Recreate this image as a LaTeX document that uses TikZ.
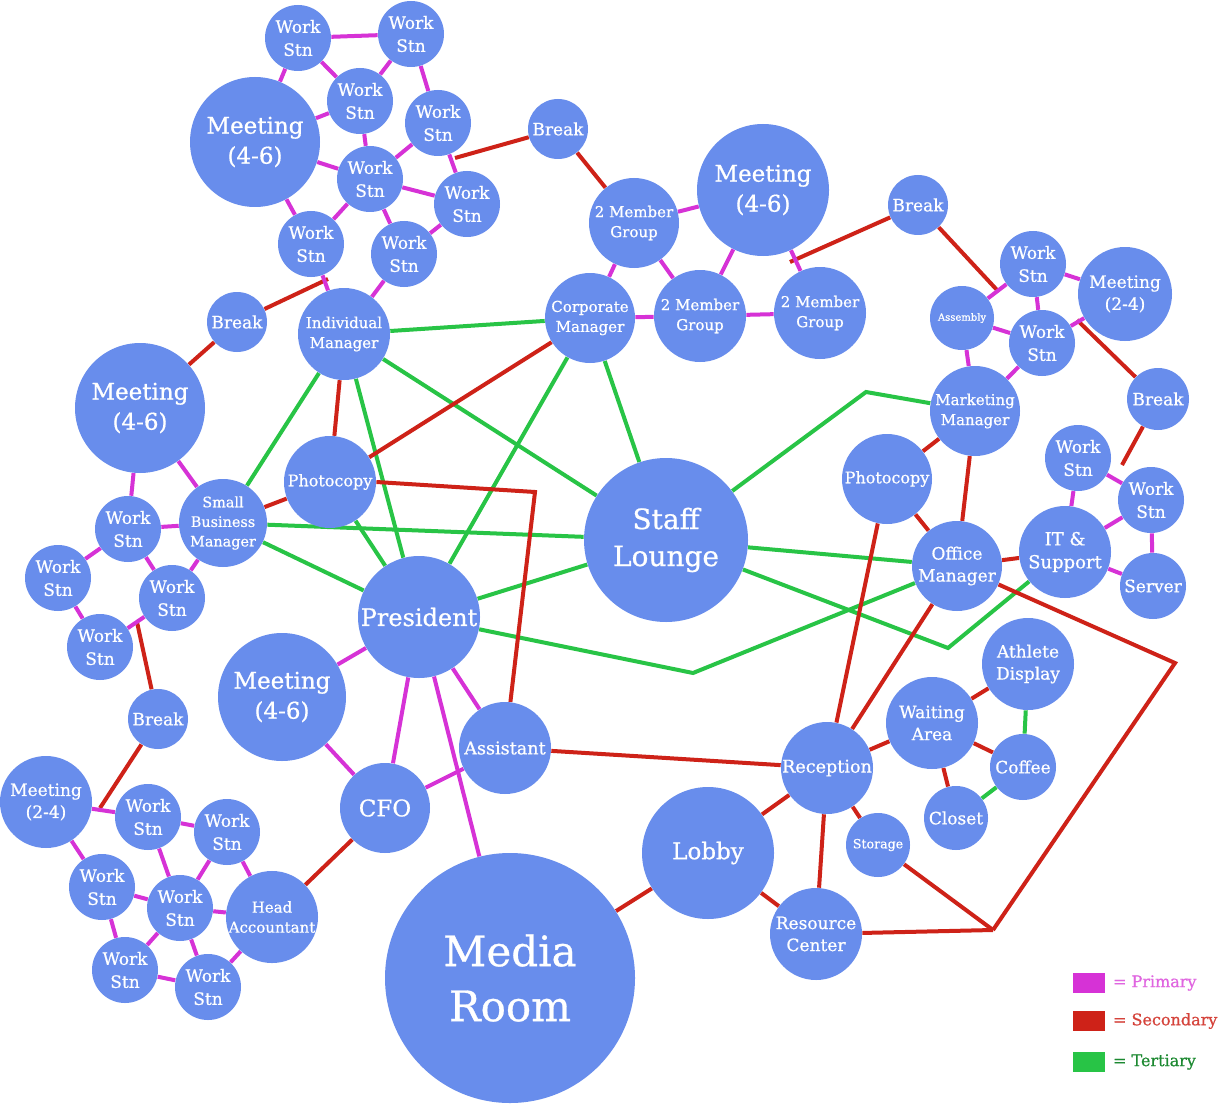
\documentclass[tikz,border=0pt]{standalone}
\usepackage{fontspec}
\setmainfont{DejaVu Serif}[FakeBold=0.7]
\pgfdeclarelayer{bg}
\pgfsetlayers{bg,main}
\definecolor{nb}{RGB}{104,141,236}
\definecolor{prim}{RGB}{214,50,214}
\definecolor{seco}{RGB}{206,34,24}
\definecolor{tert}{RGB}{40,196,70}
\newcommand{\fsz}[2]{\fontsize{#1}{#2}\selectfont}
\tikzset{
  bub/.style={circle, fill=nb, text=white, inner sep=0pt, align=center},
  ws/.style={bub, minimum size=33pt, font=\fsz{8.5}{11.5}},
  brk/.style={bub, minimum size=30pt, font=\fsz{8.5}{11}},
  meetbig/.style={bub, minimum size=65pt, font=\fsz{11.5}{15}},
  meetsm/.style={bub, minimum size=46pt, font=\fsz{8.5}{11}},
  mgr/.style={bub, minimum size=45pt, font=\fsz{7.5}{10}},
  mid/.style={bub, minimum size=46pt, font=\fsz{8.5}{11}},
  pri/.style={draw=prim, line width=2pt},
  sec/.style={draw=seco, line width=2pt},
  ter/.style={draw=tert, line width=2pt},
  legbox/.style={minimum width=16pt, minimum height=10pt, inner sep=0pt},
  legtxt/.style={anchor=west, font=\fsz{8}{10}}
}
\begin{document}
\begin{tikzpicture}[x=0.5pt,y=-0.5pt]
\useasboundingbox (0,0) rectangle (1230,1107);
% ---------- nodes ----------
% top-left cluster
\node[ws] (w1) at (298,38) {Work\\Stn};
\node[ws] (w2) at (411,34) {Work\\Stn};
\node[ws] (w3) at (360,101) {Work\\Stn};
\node[ws] (w4) at (438,123) {Work\\Stn};
\node[meetbig] (m1) at (255,142) {Meeting\\(4-6)};
\node[ws] (w5) at (370,179) {Work\\Stn};
\node[ws] (w6) at (467,204) {Work\\Stn};
\node[ws] (w7) at (311,244) {Work\\Stn};
\node[ws] (w8) at (404,254) {Work\\Stn};
\node[mgr, minimum size=46pt] (im) at (344,334) {Individual\\Manager};
\node[brk] (b1) at (237,322) {Break};
% left cluster
\node[meetbig] (m4) at (140,408) {Meeting\\(4-6)};
\node[mgr, minimum size=44pt, font=\fsz{7.2}{9.8}] (sb) at (223,523) {Small\\Business\\Manager};
\node[ws] (w13) at (128,529) {Work\\Stn};
\node[ws] (w14) at (58,578) {Work\\Stn};
\node[ws] (w15) at (172,598) {Work\\Stn};
\node[ws] (w16) at (100,647) {Work\\Stn};
\node[mid, font=\fsz{8}{10}] (pc1) at (330,482) {Photocopy};
\node[bub, minimum size=61pt, font=\fsz{12}{15}] (pres) at (419,617) {President};
\node[meetbig, minimum size=64pt] (m6) at (282,697) {Meeting\\(4-6)};
\node[bub, minimum size=45pt, font=\fsz{11.5}{14}] (cfo) at (385,808) {CFO};
\node[mid, font=\fsz{8.8}{11}] (asst) at (505,748) {Assistant};
\node[bub, minimum size=125pt, font=\fsz{21}{27.5}] (media) at (510,978) {Media\\Room};
% bottom-left cluster
\node[brk] (b5) at (158,719) {Break};
\node[meetsm] (m5) at (46,802) {Meeting\\(2-4)};
\node[ws] (w17) at (148,817) {Work\\Stn};
\node[ws] (w18) at (227,832) {Work\\Stn};
\node[ws] (w19) at (102,887) {Work\\Stn};
\node[ws] (w20) at (180,908) {Work\\Stn};
\node[ws] (w21) at (125,970) {Work\\Stn};
\node[ws] (w22) at (208,987) {Work\\Stn};
\node[mgr, minimum size=46pt] (ha) at (272,917) {Head\\Accountant};
% top-middle cluster
\node[brk] (b2) at (558,129) {Break};
\node[mgr] (mg1) at (634,223) {2 Member\\Group};
\node[meetbig, minimum size=66pt] (m2) at (763,190) {Meeting\\(4-6)};
\node[mgr] (cm) at (590,318) {Corporate\\Manager};
\node[mgr, minimum size=46pt] (mg2) at (700,316) {2 Member\\Group};
\node[mgr, minimum size=46pt] (mg3) at (820,313) {2 Member\\Group};
\node[bub, minimum size=82pt, font=\fsz{14}{18.5}] (sl) at (666,540) {Staff\\Lounge};
% top-right cluster
\node[brk] (b3) at (918,205) {Break};
\node[ws] (w9) at (1033,264) {Work\\Stn};
\node[meetsm, minimum size=47pt] (m3) at (1125,294) {Meeting\\(2-4)};
\node[bub, minimum size=32pt, font=\fsz{5}{6}] (asm) at (962,318) {Assembly};
\node[ws] (w10) at (1042,343) {Work\\Stn};
\node[brk, minimum size=31pt] (b4) at (1158,399) {Break};
\node[mgr] (mm) at (975,411) {Marketing\\Manager};
% right cluster
\node[mid, minimum size=45pt, font=\fsz{8}{10}] (pc2) at (887,479) {Photocopy};
\node[mid, minimum size=45pt] (om) at (957,566) {Office\\Manager};
\node[mid, font=\fsz{9}{11.5}] (its) at (1065,552) {IT \&\\Support};
\node[ws] (w11) at (1078,458) {Work\\Stn};
\node[ws] (w12) at (1151,500) {Work\\Stn};
\node[ws] (srv) at (1153,586) {Server};
% bottom-right cluster
\node[mid] (ath) at (1028,664) {Athlete\\Display};
\node[mid] (wait) at (932,723) {Waiting\\Area};
\node[ws] (cof) at (1023,767) {Coffee};
\node[ws, minimum size=32pt] (clo) at (956,818) {Closet};
\node[mid, font=\fsz{8.8}{11}] (rec) at (827,768) {Reception};
\node[ws, minimum size=32pt, font=\fsz{6.3}{8}] (sto) at (878,845) {Storage};
\node[bub, minimum size=66pt, font=\fsz{11.5}{14}] (lob) at (708,853) {Lobby};
\node[mid] (rc) at (816,934) {Resource\\Center};
% legend
\node[legbox, fill=prim] (lp) at (1089,983) {};
\node[legtxt, text=prim!75] (lpt) at (1106,983) {= Primary};
\node[legbox, fill=seco] (ls) at (1089,1021) {};
\node[legtxt, text=seco!85] (lst) at (1106,1021) {= Secondary};
\node[legbox, fill=tert] (lt) at (1089,1062) {};
\node[legtxt, text=tert!70!black] (ltt) at (1106,1062) {= Tertiary};
% ---------- junction / bend coordinates ----------
\coordinate (jA) at (328,279);
\coordinate (jB) at (455,158);
\coordinate (jC) at (790,262);
\coordinate (jD) at (997,290);
\coordinate (jE) at (1077,320);
\coordinate (jF) at (1122,465);
\coordinate (jG) at (137,622);
\coordinate (jH) at (100,808);
\coordinate (kP) at (535,492);
\coordinate (kO) at (1175,663);
\coordinate (kB) at (993,930);
\coordinate (kM) at (866,392);
\coordinate (kI) at (948,648);
\coordinate (kR) at (693,673);
% ---------- connectors ----------
\begin{pgfonlayer}{bg}
\fill[white] (0,0) rectangle (1230,1107);
% tertiary
\draw[ter] (im) -- (cm);
\draw[ter] (im) -- (sl);
\draw[ter] (im) -- (pres);
\draw[ter] (im) -- (sb);
\draw[ter] (cm) -- (sl);
\draw[ter] (cm) -- (pres);
\draw[ter] (sb) -- (sl);
\draw[ter] (sb) -- (pres);
\draw[ter] (pc1) -- (pres);
\draw[ter] (pres) -- (sl);
\draw[ter] (sl) -- (kM) -- (mm);
\draw[ter] (sl) -- (om);
\draw[ter] (sl) -- (kI) -- (its);
\draw[ter] (pres) -- (kR) -- (om);
\draw[ter] (ath) -- (cof);
\draw[ter] (clo) -- (cof);
% secondary
\draw[sec] (b1) -- (m4);
\draw[sec] (b1) -- (jA);
\draw[sec] (b2) -- (jB);
\draw[sec] (b2) -- (mg1);
\draw[sec] (b3) -- (jC);
\draw[sec] (b3) -- (jD);
\draw[sec] (jE) -- (b4);
\draw[sec] (b4) -- (jF);
\draw[sec] (im) -- (pc1);
\draw[sec] (pc1) -- (cm);
\draw[sec] (sb) -- (pc1);
\draw[sec] (pc1.east) -- (kP) -- (asst);
\draw[sec] (asst) -- (rec);
\draw[sec] (cfo) -- (ha);
\draw[sec] (jG) -- (b5);
\draw[sec] (b5) -- (jH);
\draw[sec] (mm) -- (pc2);
\draw[sec] (mm) -- (om);
\draw[sec] (pc2) -- (om);
\draw[sec] (om) -- (its);
\draw[sec] (pc2) -- (rec);
\draw[sec] (om) -- (rec);
\draw[sec] (rec) -- (wait);
\draw[sec] (wait) -- (ath);
\draw[sec] (wait) -- (cof);
\draw[sec] (wait) -- (clo);
\draw[sec] (rec) -- (sto);
\draw[sec] (rec) -- (rc);
\draw[sec] (rec) -- (lob);
\draw[sec] (lob) -- (rc);
\draw[sec] (lob) -- (media);
\draw[sec] (om) -- (kO) -- (kB);
\draw[sec] (sto) -- (kB);
\draw[sec] (rc) -- (kB);
% primary: top-left
\draw[pri] (w1) -- (w2);
\draw[pri] (w1) -- (w3);
\draw[pri] (w2) -- (w3);
\draw[pri] (w2) -- (w4);
\draw[pri] (w1) -- (m1);
\draw[pri] (m1) -- (w3);
\draw[pri] (w3) -- (w5);
\draw[pri] (w4) -- (w5);
\draw[pri] (w4) -- (w6);
\draw[pri] (m1) -- (w5);
\draw[pri] (m1) -- (w7);
\draw[pri] (w7) -- (w5);
\draw[pri] (w5) -- (w6);
\draw[pri] (w5) -- (w8);
\draw[pri] (w6) -- (w8);
\draw[pri] (w7) -- (im);
\draw[pri] (w8) -- (im);
% primary: top-middle
\draw[pri] (mg1) -- (m2);
\draw[pri] (mg1) -- (cm);
\draw[pri] (mg1) -- (mg2);
\draw[pri] (m2) -- (mg2);
\draw[pri] (m2) -- (mg3);
\draw[pri] (cm) -- (mg2);
\draw[pri] (mg2) -- (mg3);
% primary: top-right
\draw[pri] (w9) -- (m3);
\draw[pri] (w9) -- (w10);
\draw[pri] (asm) -- (w9);
\draw[pri] (asm) -- (w10);
\draw[pri] (w10) -- (m3);
\draw[pri] (asm) -- (mm);
\draw[pri] (w10) -- (mm);
% primary: right
\draw[pri] (w11) -- (its);
\draw[pri] (w12) -- (its);
\draw[pri] (w11) -- (w12);
\draw[pri] (w12) -- (srv);
\draw[pri] (its) -- (srv);
% primary: left
\draw[pri] (m4) -- (w13);
\draw[pri] (m4) -- (sb);
\draw[pri] (w13) -- (sb);
\draw[pri] (w13) -- (w14);
\draw[pri] (w13) -- (w15);
\draw[pri] (sb) -- (w15);
\draw[pri] (w14) -- (w16);
\draw[pri] (w15) -- (w16);
% primary: bottom-left
\draw[pri] (m5) -- (w17);
\draw[pri] (m5) -- (w19);
\draw[pri] (w17) -- (w18);
\draw[pri] (w17) -- (w20);
\draw[pri] (w18) -- (w20);
\draw[pri] (w18) -- (ha);
\draw[pri] (w19) -- (w20);
\draw[pri] (w19) -- (w21);
\draw[pri] (w20) -- (ha);
\draw[pri] (w20) -- (w21);
\draw[pri] (w20) -- (w22);
\draw[pri] (w21) -- (w22);
\draw[pri] (w22) -- (ha);
% primary: president
\draw[pri] (pres) -- (m6);
\draw[pri] (pres) -- (cfo);
\draw[pri] (pres) -- (asst);
\draw[pri] (pres) -- (media);
\draw[pri] (m6) -- (cfo);
\draw[pri] (cfo) -- (asst);
\end{pgfonlayer}
\end{tikzpicture}
\end{document}
